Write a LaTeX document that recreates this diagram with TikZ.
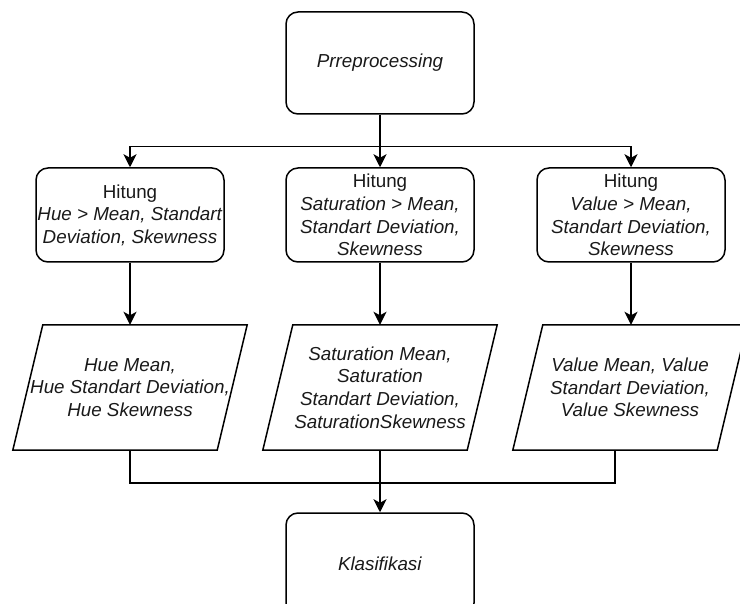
\documentclass[tikz,border=0pt]{standalone}
\usepackage{fontspec}
\setmainfont{Liberation Sans}
\usetikzlibrary{arrows.meta}
\begin{document}
\begin{tikzpicture}[x=1pt,y=-1pt,
  every node/.style={font={\fontsize{18.8pt}{22.6pt}\selectfont},align=center,inner sep=0pt,text=black!90},
  rbox/.style={draw,rounded corners=12pt,line width=1.5pt,minimum width=188pt,minimum height=94pt},
  bigbox/.style={rbox,minimum height=102pt},
  para/.style={minimum width=234pt,minimum height=125pt},
  conn/.style={line width=1.5pt},
  arr/.style={conn,-{Stealth[length=13pt,width=13pt,inset=3.5pt]}}]
\useasboundingbox (0,0) rectangle (740,604);
\clip (0,0) rectangle (740,604);

\node[bigbox] (pre) at (380,63) {\textit{Prreprocessing}};

\node[rbox] (hl) at (130,215) {Hitung\\\textit{Hue > Mean, Standart}\\\textit{Deviation, Skewness}};
\node[rbox] (hm) at (380,215) {Hitung\\\textit{Saturation > Mean,}\\\textit{Standart Deviation,}\\\textit{Skewness}};
\node[rbox] (hr) at (631,215) {Hitung\\\textit{Value > Mean,}\\\textit{Standart Deviation,}\\\textit{Skewness}};

\node[para] (pl) at (130,387.5) {\textit{Hue Mean,}\\\textit{Hue Standart Deviation,}\\\textit{Hue Skewness}};
\node[para] (pm) at (380,387.5) {\textit{Saturation Mean,}\\\textit{Saturation}\\\textit{Standart Deviation,}\\\textit{SaturationSkewness}};
\node[para] (pr) at (630,387.5) {\textit{Value Mean, Value}\\\textit{Standart Deviation,}\\\textit{Value Skewness}};

\foreach \p in {pl,pm,pr}{
  \draw[conn] ([xshift=30pt]\p.north west) -- (\p.north east) -- ([xshift=-30pt]\p.south east) -- (\p.south west) -- cycle;
}

\node[bigbox] (kl) at (380,564) {\textit{Klasifikasi}};

\coordinate (split) at ([yshift=-32pt]pre.south);
\draw[arr] (pre.south) -- (hm.north);
\draw[arr] (split) -| (hl.north);
\draw[arr] (split) -| (hr.north);

\draw[arr] (hl.south) -- (pl.north);
\draw[arr] (hm.south) -- (pm.north);
\draw[arr] (hr.south) -- (pr.north -| hr.south);

\coordinate (join) at ([yshift=-33pt]pl.south);
\draw[conn] (pl.south) -- (join) -| ([xshift=-15pt]pr.south);
\draw[arr] (pm.south) -- (kl.north);
\end{tikzpicture}
\end{document}
